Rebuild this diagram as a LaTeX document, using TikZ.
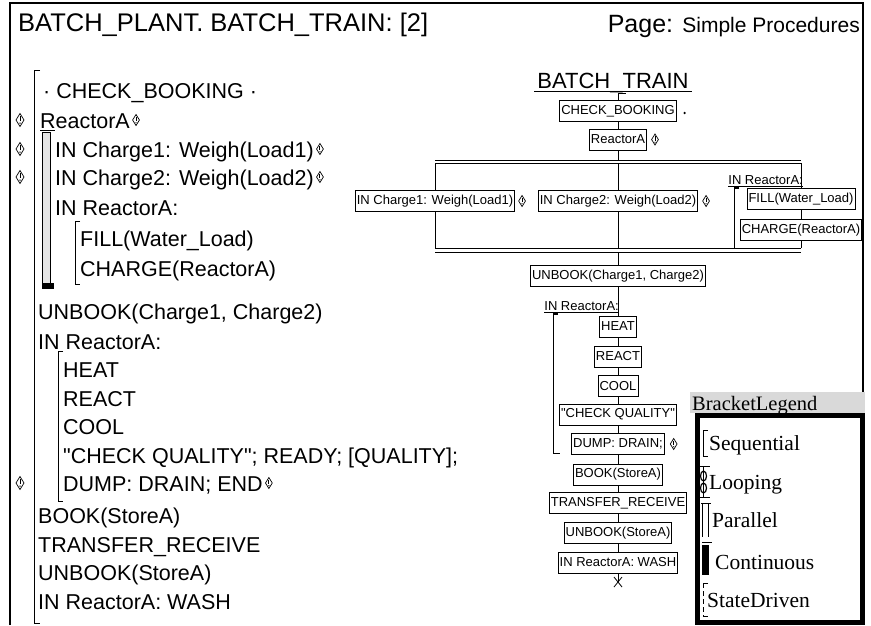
\documentclass[tikz,border=0pt]{standalone}
\usepackage{fontspec}
\setmainfont{Liberation Sans}
\newfontfamily\legfont{Liberation Serif}
\newfontfamily\qfont{Liberation Sans}
\usetikzlibrary{calc}
\newcommand{\sq}{{\qfont\symbol{34}}}
\tikzset{
  ln/.style={line width=0.8pt},
  ltxt/.style={anchor=base west, inner sep=0pt, font=\fontsize{21.5}{22}\selectfont},
  bx/.style={draw, line width=0.8pt, inner xsep=1.5pt, inner ysep=0pt, minimum height=21pt, font=\fontsize{13}{13}\selectfont},
  lbl/.style={anchor=base east, inner sep=0pt, font=\fontsize{13}{13}\selectfont},
  legtxt/.style={anchor=base west, inner sep=0pt, font=\legfont\fontsize{21.5}{22}\selectfont},
  dmark/.pic={
    \draw[line width=0.7pt] (0,-6.5) -- (4,0) -- (0,6.5) -- (-4,0) -- cycle;
    \draw[line width=1pt] (0,-3.8) -- (0,1.2);
    \fill (0,3.2) circle (0.75pt);
  }
}
\begin{document}
\begin{tikzpicture}[x=1pt,y=-1pt]
\useasboundingbox (0,0) rectangle (871,625);
% page frame
\draw[line width=2.5pt] (10,625) -- (10,3) -- (863,3) -- (863,392);
\node[anchor=base west, inner sep=0pt, font=\fontsize{25.5}{26}\selectfont] (title) at (18,31) {BATCH\_PLANT. BATCH\_TRAIN: [2]};
\node[anchor=base east, inner sep=0pt] (page) at (860,32) {\fontsize{25}{26}\selectfont Page: \fontsize{21}{22}\selectfont Simple Procedures};

% ---------------- left textual listing ----------------
\node[ltxt] (l1) at (43,98) {· CHECK\_BOOKING ·};
\node[ltxt] (l2) at (40,128) {ReactorA};
\node[ltxt] (l3) at (55,157) {IN Charge1: Weigh(Load1)};
\node[ltxt] (l4) at (55,185) {IN Charge2: Weigh(Load2)};
\node[ltxt] (l5) at (55,215) {IN ReactorA:};
\node[ltxt] (l6) at (80,246) {FILL(Water\_Load)};
\node[ltxt] (l7) at (80,276) {CHARGE(ReactorA)};
\node[ltxt] (l8) at (38,319) {UNBOOK(Charge1, Charge2)};
\node[ltxt] (l9) at (38,349) {IN ReactorA:};
\node[ltxt] (l10) at (63,377) {HEAT};
\node[ltxt] (l11) at (63,406) {REACT};
\node[ltxt] (l12) at (63,434) {COOL};
\node[ltxt] (l13) at (63,463) {\sq CHECK QUALITY\sq; READY; [QUALITY];};
\node[ltxt] (l14) at (63,491) {DUMP: DRAIN; END};
\node[ltxt] (l15) at (38,523) {BOOK(StoreA)};
\node[ltxt] (l16) at (38,552) {TRANSFER\_RECEIVE};
\node[ltxt] (l17) at (38,580) {UNBOOK(StoreA)};
\node[ltxt] (l18) at (38,609) {IN ReactorA: WASH};

% diamonds (left margin and inline)
\pic at (20,120) {dmark};
\pic at (20,149) {dmark};
\pic at (20,177) {dmark};
\pic at (20,483) {dmark};
\pic[scale=0.85] at ($(l2.base east)+(6,-8)$) {dmark};
\pic[scale=0.85] at ($(l3.base east)+(6,-8)$) {dmark};
\pic[scale=0.85] at ($(l4.base east)+(6,-8)$) {dmark};
\pic[scale=0.85] at ($(l14.base east)+(6,-8)$) {dmark};

% brackets of the listing
\draw[ln] (40,70) -- (34,70) -- (34,623) -- (40,623);
\draw[line width=0.8pt] (40,130) -- (55,130);
\filldraw[fill=gray!20, line width=0.7pt] (42,132) rectangle (50,285);
\fill (42,283) rectangle (54,289);
\draw[ln] (80,221) -- (75,221) -- (75,284) -- (80,284);
\draw[ln] (63,351) -- (58,351) -- (58,501) -- (63,501);

% ---------------- right graphical tree ----------------
\node[anchor=base, inner sep=0pt, font=\fontsize{22}{22}\selectfont] (bt) at (613,88) {BATCH\_TRAIN};
\draw[ln] ([xshift=-3pt,yshift=-3pt]bt.base west) -- ([xshift=3pt,yshift=-3pt]bt.base east);
\coordinate (t0) at (618,93);
\coordinate (t0r) at (626,93);
\node[bx] (cb) at (618,111) {CHECK\_BOOKING};
\fill ($(cb.east)+(8,2)$) circle (1.3pt);
\node[bx] (ra) at (618,139.5) {ReactorA};
\pic[scale=0.85] at ($(ra.east)+(8,0)$) {dmark};

\coordinate (pt1l) at (435,160); \coordinate (pt1r) at (801,160);
\coordinate (pt2l) at (435,163); \coordinate (pt2r) at (801,163);
\coordinate (pm1) at (618,160);  \coordinate (pm2) at (618,163);
\coordinate (pb1l) at (435,248); \coordinate (pb1r) at (801,248);
\coordinate (pb2l) at (435,252); \coordinate (pb2r) at (801,252);
\coordinate (pbm1) at (618,248); \coordinate (pbm2) at (618,252);

\node[bx] (c1) at (435,201) {IN Charge1: Weigh(Load1)};
\node[bx] (c2) at (618,201) {IN Charge2: Weigh(Load2)};
\pic[scale=0.85] at ($(c1.east)+(7,0)$) {dmark};
\pic[scale=0.85] at ($(c2.east)+(8,0)$) {dmark};
\node[lbl] (ir1) at (803,184) {IN ReactorA:};
\draw[ln] ([yshift=-2.5pt]ir1.base west) -- ([yshift=-2.5pt]ir1.base east);
\node[bx] (fl) at (801,199) {FILL(Water\_Load)};
\node[bx] (ch) at (801,230) {CHARGE(ReactorA)};
\draw[line width=1.6pt] (739,188) -- (734,188);
\draw[ln] (734,187.5) -- (734,248) -- (739,248);

\node[bx] (ub) at (618,276) {UNBOOK(Charge1, Charge2)};
\node[lbl] (ir2) at (619,310) {IN ReactorA:};
\draw[ln] ([yshift=-2.5pt]ir2.base west) -- ([yshift=-2.5pt]ir2.base east);
\draw[line width=1.4pt] (558,314) -- (553,314);
\draw[ln] (553,313) -- (553,453) -- (560,453);

\node[bx] (heat) at (618,326.5) {HEAT};
\node[bx] (react) at (618,356.5) {REACT};
\node[bx] (cool) at (618,386) {COOL};
\node[bx] (cq) at (618,414.5) {\sq CHECK QUALITY\sq};
\node[bx] (dump) at (618,444) {DUMP: DRAIN;};
\pic[scale=0.85] at ($(dump.east)+(9,0)$) {dmark};
\node[bx] (book) at (618,474.5) {BOOK(StoreA)};
\node[bx] (tr) at (618,503) {TRANSFER\_RECEIVE};
\node[bx] (ubs) at (618,533) {UNBOOK(StoreA)};
\node[bx] (wash) at (618,562.5) {IN ReactorA: WASH};
\coordinate (xm) at (618,582);

% connectors
\draw[ln] (t0) -- (t0r);
\draw[ln] (t0) -- (cb.north);
\draw[ln] (cb.south) -- (ra.north);
\draw[ln] (ra.south) -- (pm1);
\draw[ln] (pt1l) -- (pt1r);
\draw[ln] (pt2l) -- (pt2r);
\draw[ln] (pt2l) -- (c1.north);
\draw[ln] (c1.south) -- (pb1l);
\draw[ln] (pm2) -- (c2.north);
\draw[ln] (c2.south) -- (pbm1);
\draw[ln] (pt2r) -- (fl.north);
\draw[ln] (fl.south) -- (ch.north);
\draw[ln] (ch.south) -- (pb1r);
\draw[ln] (pb1l) -- (pb1r);
\draw[ln] (pb2l) -- (pb2r);
\draw[ln] (pbm2) -- (ub.north);
\draw[ln] (ub.south) -- (heat.north);
\draw[ln] (heat.south) -- (react.north);
\draw[ln] (react.south) -- (cool.north);
\draw[ln] (cool.south) -- (cq.north);
\draw[ln] (cq.south) -- (dump.north);
\draw[ln] (dump.south) -- (book.north);
\draw[ln] (book.south) -- (tr.north);
\draw[ln] (tr.south) -- (ubs.north);
\draw[ln] (ubs.south) -- (wash.north);
\draw[ln] (wash.south) -- (xm);
\draw[ln] ($(xm)+(-4,-5)$) -- ($(xm)+(4,5)$);
\draw[ln] ($(xm)+(4,-5)$) -- ($(xm)+(-4,5)$);

% ---------------- bracket legend ----------------
\fill[gray!30] (690,392) rectangle (865,413);
\node[anchor=base west, inner sep=0pt, font=\legfont\fontsize{20.5}{21}\selectfont] (lgh) at (692,410) {BracketLegend};
\draw[line width=5pt] (697.5,415.5) rectangle (862.5,622.5);
% Sequential
\draw[ln] (708,430) -- (703,430) -- (703,456) -- (708,456);
\node[legtxt] (lg1) at (709,450) {Sequential};
% Looping
\draw[ln] (700,466) -- (710,466);
\draw[ln] (700,497) -- (710,497);
\draw[line width=1.2pt] (703.5,466) -- (703.5,497);
\draw[line width=1.2pt] (703.5,476) ellipse (3pt and 5pt);
\draw[line width=1.2pt] (703.5,488) ellipse (3pt and 5pt);
\node[legtxt] (lg2) at (709,489) {Looping};
% Parallel
\draw[ln] (701,503) -- (711,503);
\draw[ln] (702.5,503) -- (702.5,537);
\draw[ln] (708.5,503) -- (708.5,537);
\node[legtxt] (lg3) at (712,527) {Parallel};
% Continuous
\draw[ln] (702,542) -- (712,542);
\fill (702,545) rectangle (709,575);
\node[legtxt] (lg4) at (715,569) {Continuous};
% StateDriven
\draw[ln] (708,583) -- (703,583);
\draw[ln, dash pattern=on 5pt off 3pt] (703,583) -- (703,616);
\draw[ln] (703,616) -- (708,616);
\node[legtxt] (lg5) at (707,607) {StateDriven};
\end{tikzpicture}
\end{document}
